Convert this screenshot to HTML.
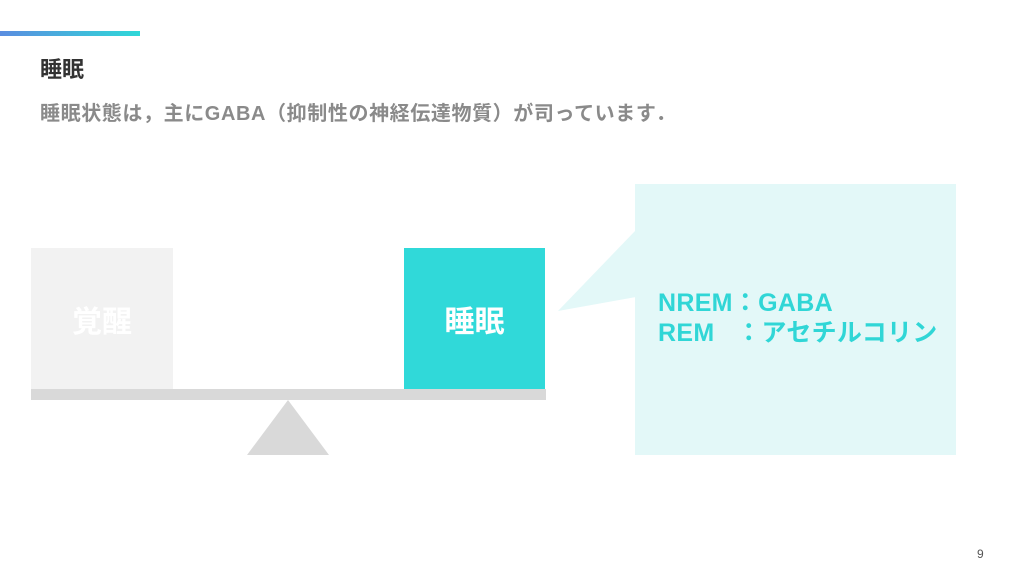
<!DOCTYPE html>
<html><head><meta charset="utf-8"><style>
body{margin:0;width:1024px;height:576px;background:#fff;position:relative;overflow:hidden;font-family:"Liberation Sans","Noto Sans CJK JP",sans-serif}
.a{position:absolute}
</style></head><body>
<div class="a" style="left:0;top:31px;width:140px;height:5px;background:linear-gradient(90deg,#5b8de0,#2fd8d8)"></div>
<div class="a" style="left:40px;top:52px;font-size:22px;font-weight:bold;color:#333">睡眠</div>
<div class="a" style="left:40px;top:97px;font-size:20px;font-weight:bold;color:#8a8a8a;letter-spacing:0.6px;white-space:nowrap">睡眠状態は，主にGABA（抑制性の神経伝達物質）が司っています．</div>
<div class="a" style="left:31px;top:248px;width:142px;height:141px;background:#f2f2f2;color:#fff;font-size:30px;font-weight:bold;display:flex;align-items:center;justify-content:center">覚醒</div>
<div class="a" style="left:404px;top:248px;width:141px;height:141px;background:#30d9d9;color:#fff;font-size:30px;font-weight:bold;display:flex;align-items:center;justify-content:center">睡眠</div>
<div class="a" style="left:31px;top:389px;width:515px;height:11px;background:#d9d9d9"></div>
<svg class="a" style="left:0;top:0" width="1024" height="576">
<polygon points="288,400 247,455 329,455" fill="#d9d9d9"/>
<polygon points="636,230 558,311 636,297" fill="#e3f8f8"/>
<rect x="635" y="184" width="321" height="271" fill="#e3f8f8"/>
</svg>
<div class="a" style="left:658px;top:288px;font-size:25px;font-weight:bold;color:#30d6d6;line-height:30px;white-space:pre;letter-spacing:0.3px">NREM：GABA
REM   ：アセチルコリン</div>
<div class="a" style="left:977px;top:547px;font-size:12px;color:#555">9</div>
</body></html>
